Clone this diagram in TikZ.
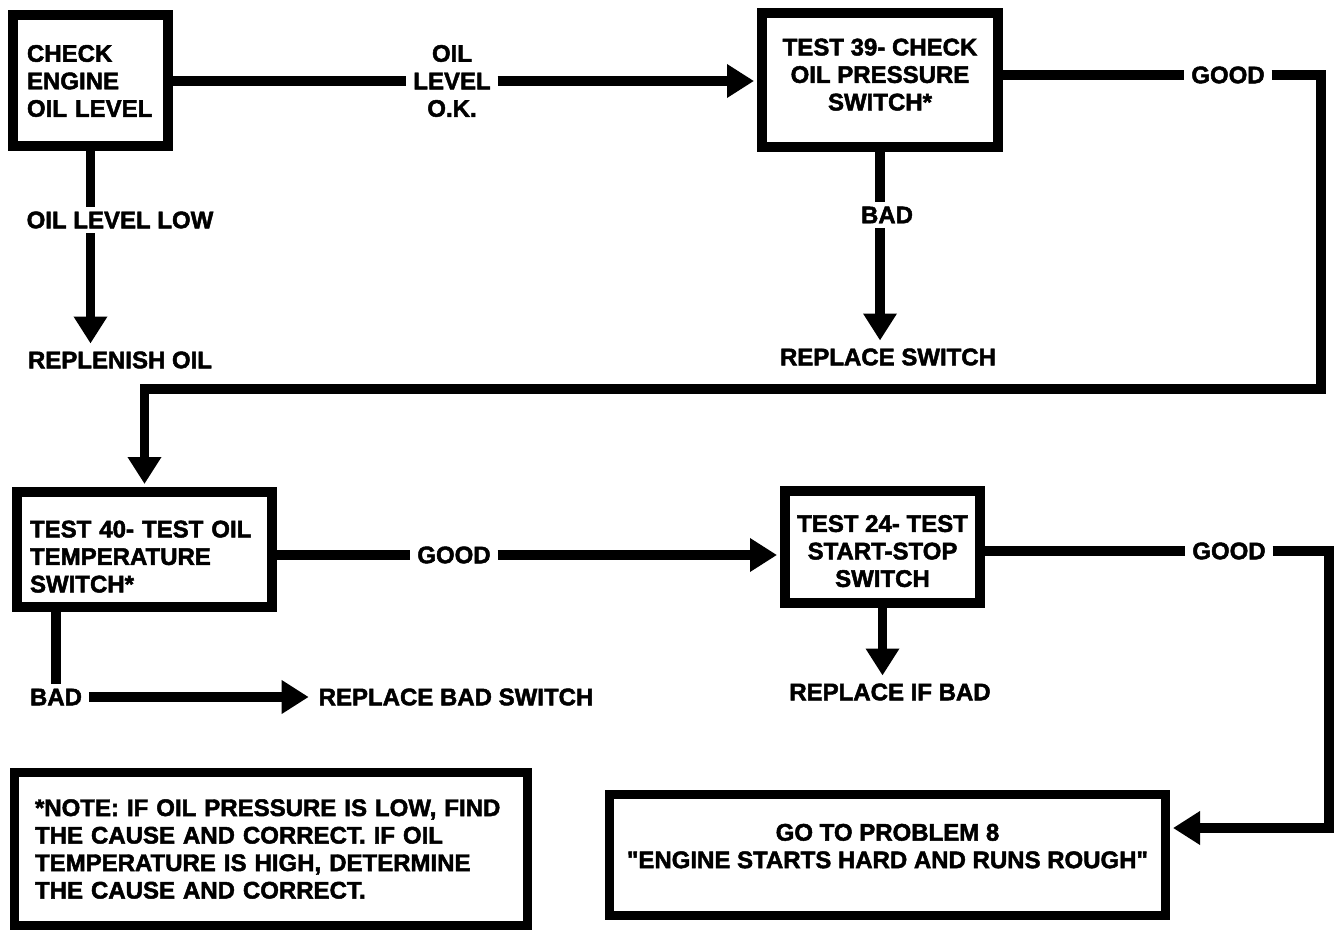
\documentclass[tikz,border=0pt]{standalone}
\usepackage{fontspec}
\setmainfont{Liberation Sans}[Ligatures=TeXOff, BoldFeatures={FakeBold=2}]
\usetikzlibrary{positioning,arrows.meta}
\tikzset{
  txt/.style={font=\fontsize{24}{27.5}\selectfont\bfseries},
  blk/.style={txt, rectangle, draw=black, line width=10pt, fill=white,
              align=#1, inner sep=0pt},
  blk/.default=center,
  lbl/.style={txt, align=center, inner xsep=7pt, inner ysep=5pt, outer sep=0pt},
  ln/.style={draw=black, line width=9.5pt},
  ar/.style={ln, -{Triangle[length=27pt,width=32pt]}, shorten >=3pt},
}
\begin{document}
\begin{tikzpicture}[x=1pt, y=-1pt]
  \useasboundingbox[fill=white] (0,0) rectangle (1337,933);

  \node[blk=left, text width=127pt, minimum width=155pt, minimum height=131pt] (chk) at (90.5,81) {CHECK\\ENGINE\\OIL LEVEL};
  \node[lbl] (lok) at (452,81) {OIL\\LEVEL\\O.K.};
  \node[blk, minimum width=236pt, minimum height=134pt] (t39) at (880,80) {TEST 39- CHECK\\OIL PRESSURE\\SWITCH*\rule[-11pt]{0pt}{11pt}};
  \node[lbl] (g39) at (1228,75) {GOOD};
  \node[lbl] (low) at (120,220) {OIL LEVEL LOW};
  \node[lbl] (rep) at (120,360) {REPLENISH OIL};
  \node[lbl] (bad39) at (887,215) {BAD};
  \node[lbl] (rsw) at (888,357) {REPLACE SWITCH};
  \coordinate (cA) at (1321,389);

  \node[blk=left, text width=229pt, minimum width=255pt, minimum height=115pt] (t40) at (144.5,549.5) {\rule{0pt}{31pt}TEST 40- TEST OIL\\TEMPERATURE\\SWITCH*};
  \node[lbl] (g40) at (454,555) {GOOD};
  \node[blk, minimum width=195pt, minimum height=112pt] (t24) at (882.5,547) {\rule{0pt}{25pt}TEST 24- TEST\\START-STOP\\SWITCH};
  \node[lbl] (g24) at (1229,551) {GOOD};
  \coordinate (cB) at (1329,828);
  \node[lbl] (bad40) at (56,697) {BAD};
  \node[lbl] (rbs) at (456,697) {REPLACE BAD SWITCH};
  \node[lbl] (rif) at (890,692) {REPLACE IF BAD};

  \node[blk=left, text width=472pt, line width=9pt, minimum width=513pt, minimum height=153pt] (note) at (271,849) {*NOTE: IF OIL PRESSURE IS LOW, FIND\\THE CAUSE AND CORRECT. IF OIL\\TEMPERATURE IS HIGH, DETERMINE\\THE CAUSE AND CORRECT.};
  \node[blk, line width=9pt, minimum width=556pt, minimum height=121pt] (prob) at (887.5,855) {GO TO PROBLEM 8\\"ENGINE STARTS HARD AND RUNS ROUGH"\rule[-18pt]{0pt}{18pt}};

  \draw[ln] (chk) -- (lok);
  \draw[ar] (lok.east) -- (lok.east -| t39.west);
  \draw[ln] (t39.east |- g39) -- (g39);
  \draw[ar] (g39) -| (cA) -| (t40);
  \draw[ln] (chk.south) -- (chk.south |- low.north);
  \draw[ar] (chk.south |- low.south) -- (chk.south |- rep.north);
  \draw[ln] (t39.south) -- (t39.south |- bad39.north);
  \draw[ar] (t39.south |- bad39.south) -- (t39.south |- rsw.north);

  \draw[ln] (t40.east |- g40) -- (g40);
  \draw[ar] (g40) -- (g40 -| t24.west);
  \draw[ln] (t24.east |- g24) -- (g24);
  \draw[ar] (g24) -| (cB) -- (cB -| prob.east);
  \draw[ln] (t40.south -| bad40) -- (bad40);
  \draw[ar] (bad40) -- (rbs);
  \draw[ar] (t24) -- (t24.south |- rif.north);
\end{tikzpicture}
\end{document}
